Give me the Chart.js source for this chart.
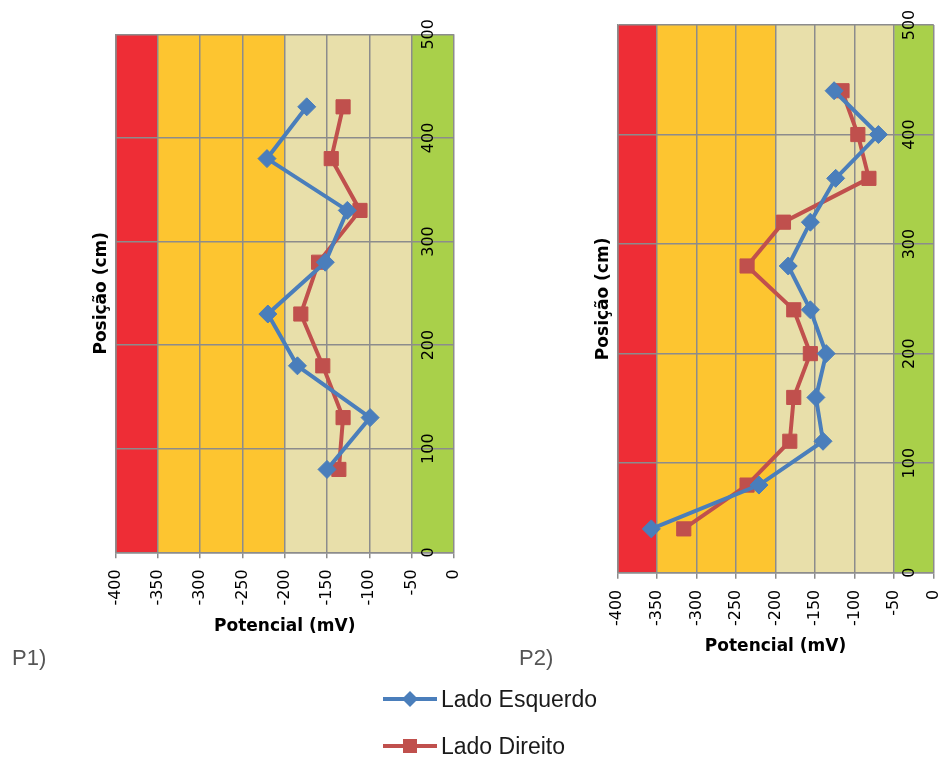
<!DOCTYPE html>
<html lang="pt">
<head>
<meta charset="utf-8">
<title>Potencial de corrosão – P1 e P2</title>
<script src="https://cdn.jsdelivr.net/npm/chart.js@4.4.1/dist/chart.umd.min.js"></script>
<style>
  html, body { margin: 0; padding: 0; background: #fff; width: 940px; height: 758px; overflow: hidden; }
  canvas { position: absolute; top: 0; }
  #c1 { left: 0; }
  #c2 { left: 470px; }
  .panel-label { position: absolute; font-family: "Liberation Sans", Arial, sans-serif; font-size: 22px; color: #555; line-height: 22px; }
  .legend-item { position: absolute; left: 383px; height: 24px; display: flex; align-items: center;
                 font-family: "Liberation Sans", Arial, sans-serif; font-size: 23px; color: #1a1a1a; }
  .legend-item svg { display: block; margin-right: 4px; }
</style>
</head>
<body>
<canvas id="c1" width="484" height="660"></canvas>
<canvas id="c2" width="494" height="670"></canvas>
<div class="panel-label" style="left:12px; top:647px;">P1)</div>
<div class="panel-label" style="left:519px; top:647px;">P2)</div>
<div class="legend-item" style="top:687px;">
  <svg width="54" height="24"><line x1="0" y1="12" x2="54" y2="12" stroke="#4A7EBB" stroke-width="4"/><polygon points="27,4 35,12 27,20 19,12" fill="#4A7EBB"/></svg>
  <span>Lado Esquerdo</span>
</div>
<div class="legend-item" style="top:734px;">
  <svg width="54" height="24"><line x1="0" y1="12" x2="54" y2="12" stroke="#C0504D" stroke-width="4"/><rect x="20" y="5" width="14" height="14" fill="#C0504D"/></svg>
  <span>Lado Direito</span>
</div>

<script>
// Posições de medição (cm) e potenciais lidos (mV)
const p1Positions = [80, 130, 180, 230, 280, 330, 380, 430];
const p1Esquerdo  = [-150, -99, -185, -220, -152, -126, -221, -174];
const p1Direito   = [-136, -131, -155, -181, -160, -111, -145, -131];

const p2Positions = [40, 80, 120, 160, 200, 240, 280, 320, 360, 400, 440];
const p2Esquerdo  = [-357, -221, -140, -149, -136, -156, -184, -156, -124, -70, -126];
const p2Direito   = [-316, -236, -182, -177, -156, -177, -236, -190, -82, -96, -116];

// Faixas de risco de corrosão (limites em mV) e suas cores
const zoneLimits = [-400, -350, -200, -50, 0];
const zoneColors = ['#EE2D36', '#FDC530', '#E8DFAA', '#A9D04A'];

// Eixos
const potencialMin = -400, potencialMax = 0, potencialStep = 50;
const posicaoMin = 0, posicaoMax = 500, posicaoStep = 100;
const posicaoLabelAt = -30; // potencial onde ficam os rótulos de posição

const seriesNames = ['Lado Esquerdo', 'Lado Direito'];
const seriesColors = ['#4A7EBB', '#C0504D'];

const gridColor = '#8c8c8c';
const tickFont = { family: '"DejaVu Sans", Verdana, sans-serif', size: 16 };
const titleFont = { family: '"DejaVu Sans", Verdana, sans-serif', size: 17, weight: 'bold' };

const toPoints = (xs, ys) => xs.map((x, i) => ({ x: x, y: ys[i] }));

// Fundo com as faixas coloridas, desenhado antes da grade
const zonesPlugin = {
  id: 'zones',
  beforeDraw(chart) {
    const { ctx, chartArea, scales } = chart;
    ctx.save();
    for (let i = 0; i < zoneColors.length; i++) {
      const x0 = scales.x.getPixelForValue(zoneLimits[i]);
      const x1 = scales.x.getPixelForValue(zoneLimits[i + 1]);
      ctx.fillStyle = zoneColors[i];
      ctx.fillRect(x0, chartArea.top, x1 - x0, chartArea.bottom - chartArea.top);
    }
    ctx.restore();
  }
};

// Rótulos de posição, verticais, dentro da área do gráfico
const posicaoLabelsPlugin = {
  id: 'posicaoLabels',
  afterDatasetsDraw(chart) {
    const { ctx, scales } = chart;
    const x = scales.x.getPixelForValue(posicaoLabelAt);
    ctx.save();
    ctx.fillStyle = '#000';
    ctx.font = `${tickFont.size}px ${tickFont.family}`;
    ctx.textAlign = 'center';
    ctx.textBaseline = 'middle';
    scales.y.ticks.forEach(t => {
      const y = scales.y.getPixelForValue(t.value);
      ctx.save();
      ctx.translate(x, y);
      ctx.rotate(-Math.PI / 2);
      ctx.fillText(String(t.value), 0, 0);
      ctx.restore();
    });
    ctx.restore();
  }
};

function makeChart(canvasId, positions, esquerdo, direito, padding) {
  const datasets = [esquerdo, direito].map((vals, i) => ({
    label: seriesNames[i],
    data: toPoints(vals, positions),
    showLine: true,
    borderColor: seriesColors[i],
    backgroundColor: seriesColors[i],
    borderWidth: 4,
    pointStyle: i === 0 ? 'rectRot' : 'rect',
    pointRadius: i === 0 ? 9 : 10,
    pointHoverRadius: i === 0 ? 9 : 10,
    pointBorderWidth: 1,
    pointBorderColor: seriesColors[i],
    pointBackgroundColor: seriesColors[i],
    tension: 0
  }));

  return new Chart(document.getElementById(canvasId), {
    type: 'scatter',
    data: { datasets },
    options: {
      responsive: false,
      animation: false,
      devicePixelRatio: 1,
      layout: { padding },
      plugins: { legend: { display: false }, tooltip: { enabled: false } },
      scales: {
        x: {
          type: 'linear',
          position: 'bottom',
          min: potencialMin,
          max: potencialMax,
          afterFit: s => { s.height = 90; },
          ticks: {
            stepSize: potencialStep,
            autoSkip: false,
            minRotation: 90,
            maxRotation: 90,
            padding: 11,
            color: '#000',
            font: tickFont
          },
          grid: { color: gridColor, lineWidth: 1.5, drawTicks: true, tickLength: 6, tickColor: gridColor },
          border: { color: gridColor, width: 1.5 },
          title: { display: true, text: 'Potencial (mV)', color: '#000', font: titleFont, padding: { top: 0, bottom: 6 } }
        },
        y: {
          type: 'linear',
          position: 'left',
          min: posicaoMin,
          max: posicaoMax,
          afterFit: s => { s.width = 28; },
          ticks: { stepSize: posicaoStep, display: false },
          grid: { color: gridColor, lineWidth: 1.5, drawTicks: false },
          border: { color: gridColor, width: 1.5 },
          title: { display: true, text: 'Posição (cm)', color: '#000', font: titleFont, padding: { top: 4, bottom: 4 } }
        }
      }
    },
    plugins: [zonesPlugin, posicaoLabelsPlugin]
  });
}

makeChart('c1', p1Positions, p1Esquerdo, p1Direito, { left: 87.7, top: 34.3, right: 0, bottom: 17.7 });
makeChart('c2', p2Positions, p2Esquerdo, p2Direito, { left: 119.3, top: 25, right: 0, bottom: 7.3 });
</script>
</body>
</html>
